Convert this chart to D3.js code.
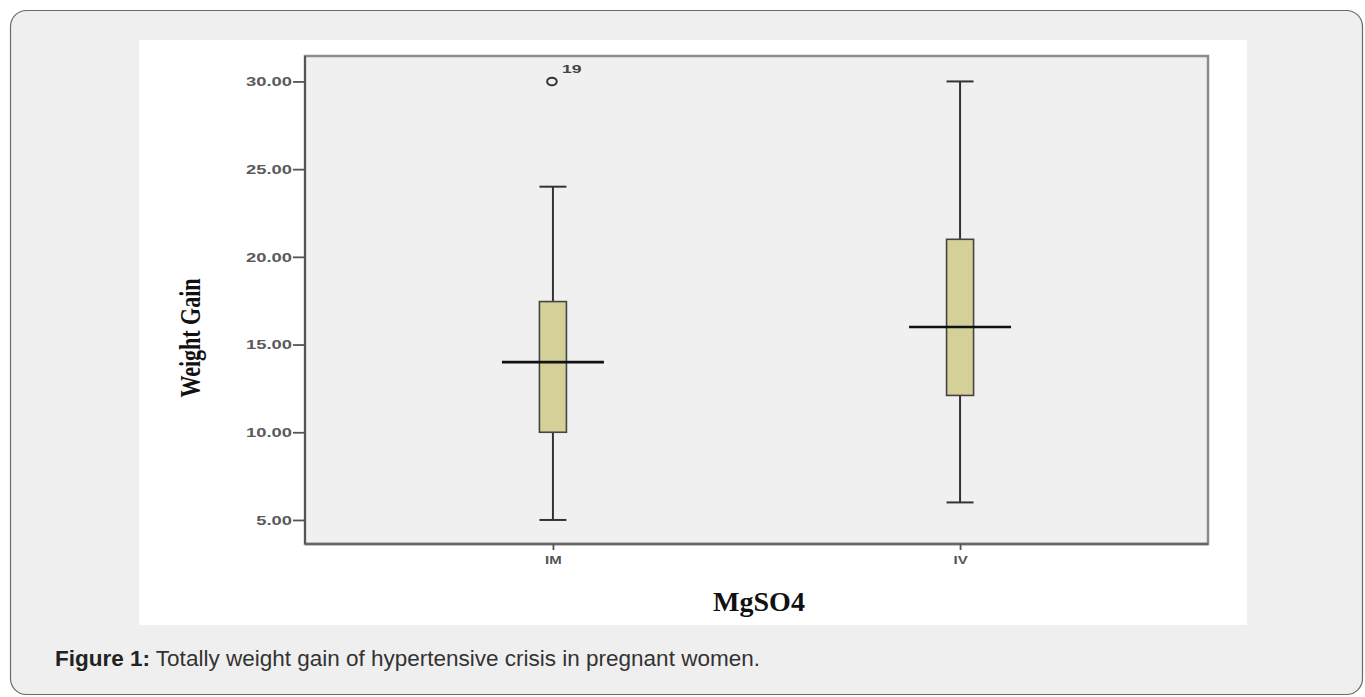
<!DOCTYPE html>
<html>
<head>
<meta charset="utf-8">
<script src="https://cdnjs.cloudflare.com/ajax/libs/d3/7.8.5/d3.min.js"></script>
<style>
  html, body { margin: 0; padding: 0; background: #fff; }
  svg { display: block; }
  .tick text { font-family: "Liberation Sans", Arial, sans-serif; }
</style>
</head>
<body>
<svg id="fig" width="1365" height="697"></svg>
<script>
// box plot summary
const groups      = ["IM", "IV"];
const whiskerLow  = [5, 6];
const quart1      = [10, 12.1];
const medians     = [14, 16];
const quart3      = [17.45, 21];
const whiskerHigh = [24, 30];
const outlierGroup = ["IM"];
const outlierValue = [30];
const outlierLabel = ["19"];
const yTicks = [5, 10, 15, 20, 25, 30];

const svg = d3.select("#fig");

// outer rounded panel + white picture area
svg.append("rect")
  .attr("x", 10.5).attr("y", 10.5).attr("width", 1352).attr("height", 684)
  .attr("rx", 16).attr("fill", "#efefef").attr("stroke", "#6a6a6a").attr("stroke-width", 1.2);
svg.append("rect")
  .attr("x", 139).attr("y", 40).attr("width", 1108).attr("height", 585)
  .attr("fill", "#fff");

const plotL = 305, plotR = 1208, plotT = 56, plotB = 544;

const y = d3.scaleLinear().domain([3.63, 31.45]).range([plotB, plotT]);
const x = d3.scalePoint().domain(groups).range([plotL, plotR]).padding(0.609);

// plot frame
svg.append("rect")
  .attr("x", plotL).attr("y", plotT).attr("width", plotR - plotL).attr("height", plotB - plotT)
  .attr("fill", "#f0f0f0").attr("stroke", "#8c8c8c").attr("stroke-width", 2.5);
svg.append("line").attr("x1", plotL).attr("x2", plotL).attr("y1", plotT).attr("y2", plotB)
  .attr("stroke", "#555").attr("stroke-width", 2);
svg.append("line").attr("x1", plotL).attr("x2", plotR).attr("y1", plotB).attr("y2", plotB)
  .attr("stroke", "#666").attr("stroke-width", 2.5);

// y axis
const sy = 1.47;
const yAxis = svg.append("g").attr("transform", `translate(${plotL},0)`)
  .call(d3.axisLeft(y).tickValues(yTicks).tickSize(12).tickFormat(d3.format(".2f")));
yAxis.select(".domain").remove();
yAxis.selectAll(".tick line").attr("stroke", "#555").attr("stroke-width", 1.8);
yAxis.selectAll(".tick text")
  .attr("fill", "#5a5a5a").attr("font-size", 12.5).attr("font-weight", "bold")
  .attr("x", -13 / sy).attr("dy", "0.35em")
  .attr("transform", `scale(${sy},1)`);

// x axis
const sx = 1.5;
const xAxis = svg.append("g").attr("transform", `translate(0,${plotB})`)
  .call(d3.axisBottom(x).tickSize(6).tickPadding(4));
xAxis.select(".domain").remove();
xAxis.selectAll(".tick line").attr("stroke", "#555").attr("stroke-width", 1.8);
xAxis.selectAll(".tick text")
  .attr("fill", "#555").attr("font-size", 10).attr("font-weight", "bold")
  .attr("x", 0).attr("y", 20).attr("dy", 0)
  .attr("transform", `scale(${sx},1)`);

// boxes
const boxW = 27, medW = 102, capW = 27;
const rows = groups.map((g, i) => ({
  g, lo: whiskerLow[i], q1: quart1[i], med: medians[i], q3: quart3[i], hi: whiskerHigh[i]
}));

const box = svg.selectAll("g.box").data(rows).enter().append("g")
  .attr("class", "box")
  .attr("transform", d => `translate(${x(d.g)},0)`);

box.append("line").attr("x1", 0).attr("x2", 0)
  .attr("y1", d => y(d.hi)).attr("y2", d => y(d.q3))
  .attr("stroke", "#333").attr("stroke-width", 2);
box.append("line").attr("x1", 0).attr("x2", 0)
  .attr("y1", d => y(d.q1)).attr("y2", d => y(d.lo))
  .attr("stroke", "#333").attr("stroke-width", 2);
box.append("line").attr("x1", -capW / 2).attr("x2", capW / 2)
  .attr("y1", d => y(d.hi)).attr("y2", d => y(d.hi))
  .attr("stroke", "#333").attr("stroke-width", 2);
box.append("line").attr("x1", -capW / 2).attr("x2", capW / 2)
  .attr("y1", d => y(d.lo)).attr("y2", d => y(d.lo))
  .attr("stroke", "#333").attr("stroke-width", 2);
box.append("rect")
  .attr("x", -boxW / 2).attr("width", boxW)
  .attr("y", d => y(d.q3)).attr("height", d => y(d.q1) - y(d.q3))
  .attr("fill", "#d4d098").attr("stroke", "#444").attr("stroke-width", 1.6);
box.append("line").attr("x1", -medW / 2).attr("x2", medW / 2)
  .attr("y1", d => y(d.med)).attr("y2", d => y(d.med))
  .attr("stroke", "#111").attr("stroke-width", 2.6);

// outliers
outlierGroup.forEach((g, i) => {
  const cx = x(g) - 1, cy = y(outlierValue[i]);
  svg.append("ellipse").attr("cx", cx).attr("cy", cy).attr("rx", 4.8).attr("ry", 3.8)
    .attr("fill", "none").attr("stroke", "#333").attr("stroke-width", 2);
  svg.append("text")
    .attr("transform", `translate(${cx + 10},${cy - 8}) scale(1.6,1)`)
    .attr("font-family", "Liberation Sans, Arial, sans-serif")
    .attr("font-size", 11).attr("font-weight", "bold").attr("fill", "#444")
    .text(outlierLabel[i]);
});

// axis titles
svg.append("text")
  .attr("transform", "translate(200,338) rotate(-90) scale(1,1.3)")
  .attr("text-anchor", "middle")
  .attr("font-family", "Liberation Serif, Times New Roman, serif")
  .attr("font-size", 22).attr("font-weight", "bold").attr("fill", "#111")
  .text("Weight Gain");

svg.append("text")
  .attr("x", 759).attr("y", 611)
  .attr("text-anchor", "middle")
  .attr("font-family", "Liberation Serif, Times New Roman, serif")
  .attr("font-size", 28).attr("font-weight", "bold").attr("fill", "#111")
  .text("MgSO4");

// caption
const cap = svg.append("text")
  .attr("x", 55).attr("y", 666)
  .attr("font-family", "Liberation Sans, Arial, sans-serif")
  .attr("font-size", 22.5).attr("fill", "#333");
cap.append("tspan").attr("font-weight", "bold").attr("fill", "#222").text("Figure 1:");
cap.append("tspan").text(" Totally weight gain of hypertensive crisis in pregnant women.");
</script>
</body>
</html>
